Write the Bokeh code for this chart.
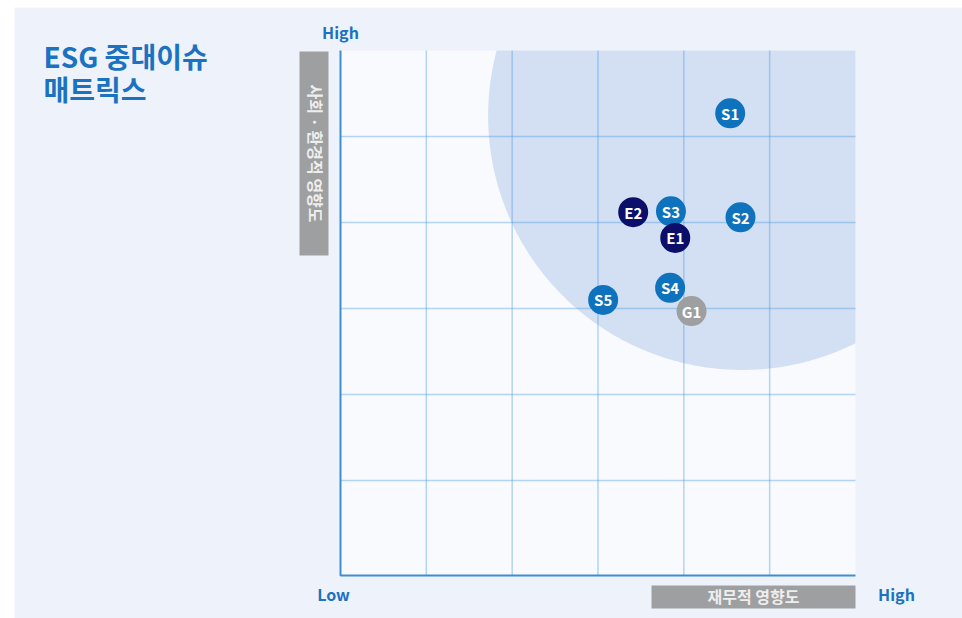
import numpy as np
from bokeh.plotting import figure
from bokeh.models import Range1d, ColumnDataSource
from bokeh.embed import file_html
from bokeh.resources import INLINE
from bokeh.core.properties import value

# ---- data ----
issue_labels = ["S1", "S2", "S3", "S4", "S5", "E2", "E1", "G1"]
issue_group = ["S", "S", "S", "S", "S", "E", "E", "G"]
financial_impact = [4.54, 4.66, 3.85, 3.84, 3.06, 3.41, 3.90, 4.09]
social_env_impact = [5.27, 4.06, 4.13, 3.24, 3.10, 4.12, 3.82, 2.97]

zone_center_x = 4.68
zone_center_y = 5.24
zone_radius = 2.96

grid_ticks = [1, 2, 3, 4, 5]
x_min, x_max = 0.0, 6.0
y_min, y_max = -0.105, 6.0

group_colors = {"S": "#0f72bd", "E": "#0c0f6a", "G": "#9d9fa0"}

title_lines = ["ESG 중대이슈", "매트릭스"]
y_title = "사회 · 환경적 영향도"
x_title = "재무적 영향도"
high_text = "High"
low_text = "Low"

FONT = value("Noto Sans CJK KR")
BLUE = "#1a72c1"
PANEL = "#eef3fb"
GRAY = "#9d9fa0"
GRID = "#4a9be0"
AXIS = "#3d8fd1"

W, H = 962, 618
PX_X0, PX_PER_X = 340.0, 515.0 / 6.0    # pixel of x=0, pixels per unit
PX_Y6, PX_PER_Y = 50.0, 86.0            # pixel of y=6, pixels per unit


def dx(px):
    return (px - PX_X0) / PX_PER_X


def dy(py):
    return 6 - (py - PX_Y6) / PX_PER_Y


p = figure(width=W, height=H, output_backend="svg", toolbar_location=None,
           x_range=Range1d(dx(0), dx(W)), y_range=Range1d(dy(H), dy(0)),
           x_axis_type=None, y_axis_type=None, min_border=0)
p.min_border_left = p.min_border_right = p.min_border_top = p.min_border_bottom = 0
p.outline_line_color = None
p.grid.visible = False
p.background_fill_color = "white"
p.border_fill_color = "white"

# outer panel
p.quad(left=[dx(14)], right=[dx(W + 2)], top=[dy(7)], bottom=[dy(H + 2)],
       fill_color=PANEL, line_color=None)

# plot area
p.quad(left=[x_min], right=[x_max], top=[y_max], bottom=[y_min],
       fill_color="#f8fafd", line_color=None)

# materiality zone (clipped to the plot area)
theta = np.linspace(0, 2 * np.pi, 721)
zx = zone_center_x + zone_radius * np.cos(theta)
zy = zone_center_y + zone_radius * (PX_PER_X / PX_PER_Y) * np.sin(theta)
zx = np.clip(zx, x_min, x_max)
zy = np.clip(zy, y_min, y_max)
p.patch(zx, zy, fill_color="#d3dff2", line_color=None)

# grid lines
p.segment(x0=grid_ticks, x1=grid_ticks, y0=[y_min] * len(grid_ticks),
          y1=[y_max] * len(grid_ticks), line_color=GRID, line_alpha=0.4,
          line_width=1.5)
p.segment(x0=[x_min] * len(grid_ticks), x1=[x_max] * len(grid_ticks),
          y0=grid_ticks, y1=grid_ticks, line_color=GRID, line_alpha=0.4,
          line_width=1.5)

# axis lines
p.line(x=[x_min, x_min, x_max], y=[y_max, y_min, y_min], line_color=AXIS,
       line_width=2)

# issues
src = ColumnDataSource(dict(
    x=financial_impact, y=social_env_impact, label=issue_labels,
    color=[group_colors[g] for g in issue_group]))
p.scatter(x="x", y="y", source=src, size=30, marker="circle",
          fill_color="color", line_color=None)
p.text(x="x", y="y", text="label", source=src, text_color="white",
       text_font=FONT, text_font_style="bold", text_font_size="15px",
       text_align="center", text_baseline="middle")

# title
p.text(x=[dx(43), dx(43)], y=[dy(55), dy(88)], text=title_lines,
       text_font=FONT, text_font_style="bold", text_font_size="28px",
       text_color=BLUE, text_align="left", text_baseline="middle")

# High / Low
p.text(x=[dx(340), dx(333), dx(896)], y=[dy(31), dy(593), dy(593)],
       text=[high_text, low_text, high_text], text_font=FONT,
       text_font_style="bold", text_font_size="16px", text_color=BLUE,
       text_align="center", text_baseline="middle")

# axis title boxes
p.quad(left=[dx(299)], right=[dx(328)], top=[dy(51)], bottom=[dy(255)],
       fill_color=GRAY, line_color=None)
p.quad(left=[dx(651)], right=[x_max], top=[dy(585)], bottom=[dy(608)],
       fill_color=GRAY, line_color=None)
p.text(x=[dx(315)], y=[dy(153)], text=[y_title], angle=-np.pi / 2,
       text_font=FONT, text_font_style="bold", text_font_size="16px",
       text_color="#eeeeee", text_align="center", text_baseline="middle")
p.text(x=[dx(753)], y=[dy(595)], text=[x_title],
       text_font=FONT, text_font_style="bold", text_font_size="16px",
       text_color="#eeeeee", text_align="center", text_baseline="middle")

open("out.html", "w").write(file_html(p, INLINE))
